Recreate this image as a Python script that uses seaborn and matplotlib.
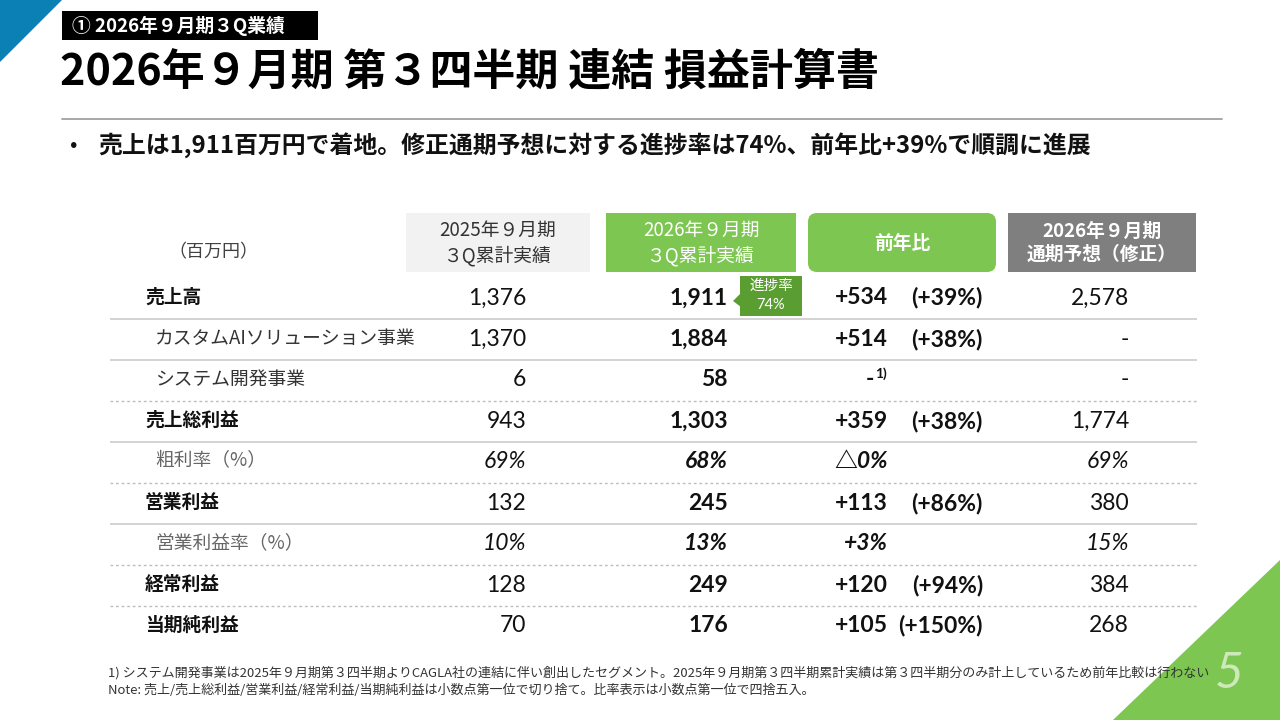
import matplotlib
matplotlib.use("Agg")
import matplotlib.pyplot as plt
from matplotlib.patches import Rectangle, FancyBboxPatch, Polygon
import seaborn as sns

sns.set_theme(style="white")
JP = ["Noto Sans CJK JP", "DejaVu Sans"]
NUM = ["Lato", "Noto Sans CJK JP", "DejaVu Sans"]
plt.rcParams["font.family"] = JP

# ---------------- data ----------------
section_tag = "① 2026年９月期３Q業績"
title = "2026年９月期 第３四半期 連結 損益計算書"
bullet = "売上は1,911百万円で着地。修正通期予想に対する進捗率は74%、前年比+39%で順調に進展"
unit_label = "（百万円）"
col_headers = ["2025年９月期\n３Q累計実績", "2026年９月期\n３Q累計実績", "前年比", "2026年９月期\n通期予想（修正）"]
row_labels = ["売上高", "カスタムAIソリューション事業", "システム開発事業", "売上総利益",
              "粗利率（%）", "営業利益", "営業利益率（%）", "経常利益", "当期純利益"]
row_kind = ["main", "sub", "sub", "main", "rate", "main", "rate", "main", "main"]
prev_values = ["1,376", "1,370", "6", "943", "69%", "132", "10%", "128", "70"]
curr_values = ["1,911", "1,884", "58", "1,303", "68%", "245", "13%", "249", "176"]
yoy_diff = ["+534", "+514", "-", "+359", "△0%", "+113", "+3%", "+120", "+105"]
yoy_pct = ["(+39%)", "(+38%)", "", "(+38%)", "", "(+86%)", "", "(+94%)", "(+150%)"]
yoy_note = ["", "", "1)", "", "", "", "", "", ""]
forecast = ["2,578", "-", "-", "1,774", "69%", "380", "15%", "384", "268"]
separators = ["solid", "solid", "dashed", "solid", "dashed", "solid", "dashed", "dashed"]
progress_label = "進捗率"
progress_value = "74%"
footnotes = [
    "1) システム開発事業は2025年９月期第３四半期よりCAGLA社の連結に伴い創出したセグメント。2025年９月期第３四半期累計実績は第３四半期分のみ計上しているため前年比較は行わない",
    "Note: 売上/売上総利益/営業利益/経常利益/当期純利益は小数点第一位で切り捨て。比率表示は小数点第一位で四捨五入。",
]
page_no = "5"

# ---------------- style ----------------
GREEN = "#7DC652"
DKGREEN = "#5A9E32"
BLUE = "#0B80B4"
GRAY_HDR = "#7F7F7F"
LIGHT_HDR = "#F2F2F2"

fig = plt.figure(figsize=(12.8, 7.2), dpi=100)
ax = fig.add_axes([0, 0, 1, 1])
ax.set_xlim(0, 1280)
ax.set_ylim(720, 0)
ax.axis("off")

# corner decorations
ax.add_patch(Polygon([(0, 0), (62, 0), (0, 62)], closed=True, color=BLUE, lw=0))
ax.add_patch(Polygon([(1280, 560), (1280, 720), (1113, 720)], closed=True, color=GREEN, lw=0))

# section tag
ax.add_patch(Rectangle((62, 11), 256, 29, color="black", lw=0))
ax.text(72, 26, section_tag, color="white", fontsize=13.5, fontweight="bold",
        va="center", ha="left", family=JP)

# title
ax.text(60, 72, title, fontsize=31, fontweight="bold", va="center", ha="left",
        color="black", family=JP)
ax.plot([62, 1222], [119, 119], color="#A0A0A0", lw=1.3)

# bullet
ax.text(70, 145, "•", fontsize=16, va="center", ha="left", color="#111111", family=JP)
ax.text(98, 145, bullet, fontsize=17.2, fontweight="bold", va="center", ha="left",
        color="#111111", family=JP)

# unit
ax.text(213, 252, unit_label, fontsize=13, va="center", ha="center", color="#404040", family=JP)

# header boxes
hdr_x = [(406, 590), (606, 796), (808, 996), (1008, 1196)]
hdr_fill = [LIGHT_HDR, GREEN, GREEN, GRAY_HDR]
hdr_txt = ["#333333", "white", "white", "white"]
hdr_bold = [False, False, True, True]
for i, (x0, x1) in enumerate(hdr_x):
    if i == 2:
        ax.add_patch(FancyBboxPatch((x0, 213), x1 - x0, 59,
                                    boxstyle="round,pad=0,rounding_size=9",
                                    fc=hdr_fill[i], ec="none", lw=0))
    else:
        ax.add_patch(Rectangle((x0, 213), x1 - x0, 59, color=hdr_fill[i], lw=0))
    ax.text((x0 + x1) / 2, 243, col_headers[i], fontsize=13.5, ha="center", va="center",
            color=hdr_txt[i], fontweight="bold" if hdr_bold[i] else "normal",
            linespacing=1.25, family=JP)

# rows
row_top = 277.5
row_h = 41
for i, lab in enumerate(row_labels):
    yc = row_top + row_h * (i + 0.5)
    kind = row_kind[i]
    if kind == "main":
        ax.text(145, yc - 1, lab, fontsize=13.5, fontweight="bold", va="center", ha="left",
                color="#111111", family=JP)
    elif kind == "sub":
        ax.text(155, yc - 1, lab, fontsize=13.5, va="center", ha="left",
                color="#333333", family=JP)
    else:
        ax.text(155, yc - 1, lab, fontsize=13.5, va="center", ha="left",
                color="#666666", style="italic", family=JP)
    st = "italic" if kind == "rate" else "normal"
    ax.text(526, yc, prev_values[i], fontsize=16.5, ha="right", va="center",
            color="#111111", style=st, family=NUM)
    ax.text(728, yc, curr_values[i], fontsize=16.5, ha="right", va="center",
            color="#111111", style=st, fontweight="bold", family=NUM)
    if yoy_note[i]:
        ax.text(874, yc, yoy_diff[i], fontsize=16.5, ha="right", va="center",
                color="#111111", fontweight="bold", family=NUM)
        ax.text(875, yc - 6, yoy_note[i], fontsize=10, ha="left", va="center",
                color="#111111", fontweight="bold", family=NUM)
    else:
        ax.text(888, yc, yoy_diff[i], fontsize=16.5, ha="right", va="center",
                color="#111111", style=st, fontweight="bold", family=NUM)
    if yoy_pct[i]:
        ax.text(983, yc, yoy_pct[i], fontsize=16.5, ha="right", va="center",
                color="#111111", fontweight="bold", family=NUM)
    ax.text(1129, yc, forecast[i], fontsize=16.5, ha="right", va="center",
            color="#111111", style=st, family=NUM)

# separators
for k, ls in enumerate(separators):
    y = row_top + row_h * (k + 1)
    if ls == "solid":
        ax.plot([110, 1197], [y, y], color="#D0D0D0", lw=1.3, solid_capstyle="butt")
    else:
        ax.plot([110, 1197], [y, y], color="#BDBDBD", lw=1.0, ls=(0, (2, 2)))

# progress callout
ax.add_patch(Rectangle((740, 276), 62, 40, color=DKGREEN, lw=0))
ax.add_patch(Polygon([(741, 293), (741, 307), (733, 301)], closed=True, color=DKGREEN, lw=0))
ax.text(771, 286, progress_label, fontsize=10.5, ha="center", va="center", color="white", family=JP)
ax.text(771, 305, progress_value, fontsize=10.5, ha="center", va="center", color="white", family=NUM)

# page number (drawn beneath the footnote, as on the slide)
ax.text(1229, 674, page_no, fontsize=36, ha="center", va="center", color="#CDE9BA",
        style="italic", family=NUM, zorder=1)

# footnotes
ax.text(108, 673, footnotes[0], fontsize=9.4, ha="left", va="center", color="#333333",
        family=JP, zorder=2)
ax.text(108, 690, footnotes[1], fontsize=9.4, ha="left", va="center", color="#333333",
        family=JP, zorder=2)

fig.savefig("out.png", dpi=100)
